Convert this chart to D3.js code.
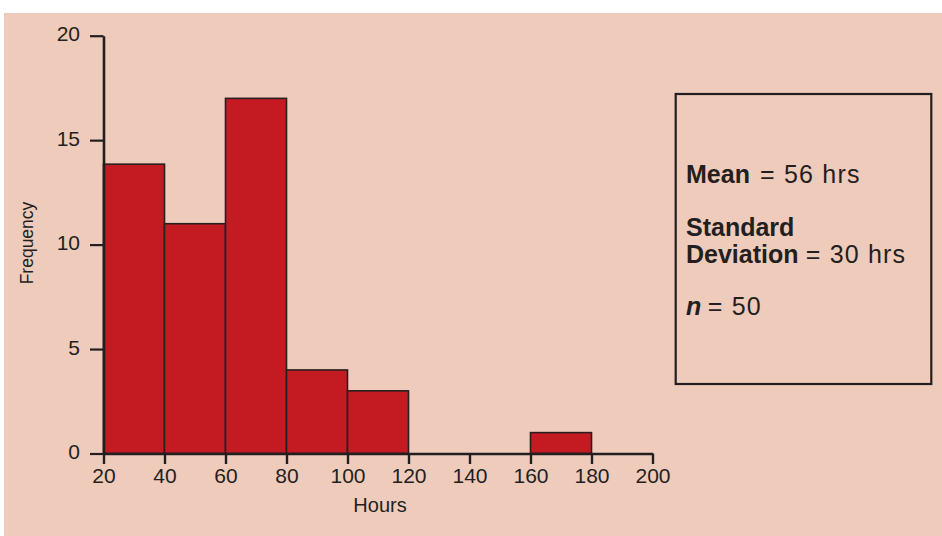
<!DOCTYPE html>
<html>
<head>
<meta charset="utf-8">
<script src="https://cdn.jsdelivr.net/npm/d3@7"></script>
<style>
  html, body { margin: 0; padding: 0; background: #ffffff; }
  svg { display: block; }
  text { font-family: "Liberation Sans", Arial, sans-serif; fill: #231f20; }
</style>
</head>
<body>
<svg id="chart" width="942" height="536"></svg>
<script>
// ---- Data ----
const binStarts = [20, 40, 60, 80, 100, 120, 140, 160, 180];
const binWidth = 20;
const frequencies = [13.85, 11, 17, 4, 3, 0, 0, 1, 0];
const xTicks = [20, 40, 60, 80, 100, 120, 140, 160, 180, 200];
const yTicks = [0, 5, 10, 15, 20];
const xTitle = "Hours";
const yTitle = "Frequency";
const statLines = [
  { parts: [{ t: "Mean", b: true }, { t: "= 56 hrs", b: false }] },
  { parts: [{ t: "Standard", b: true }] },
  { parts: [{ t: "Deviation", b: true }, { t: "= 30 hrs", b: false }] },
  { parts: [{ t: "n", b: true, i: true }, { t: "= 50", b: false }] }
];

// ---- Layout ----
const ink = "#231f20";
const svg = d3.select("#chart");

svg.append("rect")
  .attr("x", 4).attr("y", 13).attr("width", 938).attr("height", 523)
  .attr("fill", "#eecbbb");

const x = d3.scaleLinear().domain([20, 200]).range([103.5, 652.5]);
const y = d3.scaleLinear().domain([0, 20]).range([453.5, 35.7]);

// Bars
const bars = binStarts.map((s, i) => ({ s, e: s + binWidth, f: frequencies[i] })).filter(d => d.f > 0);
svg.append("g").selectAll("rect").data(bars).join("rect")
  .attr("x", d => x(d.s))
  .attr("y", d => y(d.f))
  .attr("width", d => x(d.e) - x(d.s))
  .attr("height", d => y(0) - y(d.f))
  .attr("fill", "#c41b23")
  .attr("stroke", "#2a1f20")
  .attr("stroke-width", 1.6);

// Y axis
const yAxis = svg.append("g")
  .attr("transform", `translate(${x(20)},0)`)
  .call(d3.axisLeft(y).tickValues(yTicks).tickSize(13.5).tickSizeOuter(0).tickPadding(10).tickFormat(d3.format("d")));
yAxis.select(".domain").attr("stroke", ink).attr("stroke-width", 2.6);
yAxis.selectAll(".tick line").attr("stroke", ink).attr("stroke-width", 2.2);
yAxis.selectAll(".tick text").attr("font-size", 21).attr("dy", "0.24em")
  .attr("font-family", "Liberation Sans, Arial, sans-serif").attr("fill", ink);

// X axis
const xAxis = svg.append("g")
  .attr("transform", `translate(0,${y(0)})`)
  .call(d3.axisBottom(x).tickValues(xTicks).tickSize(10.5).tickSizeOuter(0).tickPadding(4.5).tickFormat(d3.format("d")));
xAxis.select(".domain").attr("stroke", ink).attr("stroke-width", 2.6);
xAxis.selectAll(".tick line").attr("stroke", ink).attr("stroke-width", 2.4);
xAxis.selectAll(".tick text").attr("font-size", 21)
  .attr("font-family", "Liberation Sans, Arial, sans-serif").attr("fill", ink);

// Axis titles
svg.append("text")
  .attr("x", 380).attr("y", 512)
  .attr("text-anchor", "middle")
  .attr("font-size", 20)
  .text(xTitle);

svg.append("text")
  .attr("transform", "translate(32.5,243) rotate(-90)")
  .attr("text-anchor", "middle")
  .attr("font-size", 17.5)
  .text(yTitle);

// Stats box
svg.append("rect")
  .attr("x", 675.7).attr("y", 94).attr("width", 255.6).attr("height", 290)
  .attr("fill", "none").attr("stroke", ink).attr("stroke-width", 2.2);

const lineBaselines = [183.3, 236, 262.7, 315.3];
const valueX = [760, null, 805.7, 707.7];
statLines.forEach((ln, i) => {
  const t = svg.append("text")
    .attr("x", 686).attr("y", lineBaselines[i])
    .attr("font-size", 25);
  ln.parts.forEach((p, j) => {
    const ts = t.append("tspan").text(p.t);
    if (p.b) ts.attr("font-weight", "bold");
    if (p.i) ts.attr("font-style", "italic");
    if (!p.b) ts.attr("x", valueX[i]).attr("letter-spacing", 1.2);
  });
});
</script>
</body>
</html>
